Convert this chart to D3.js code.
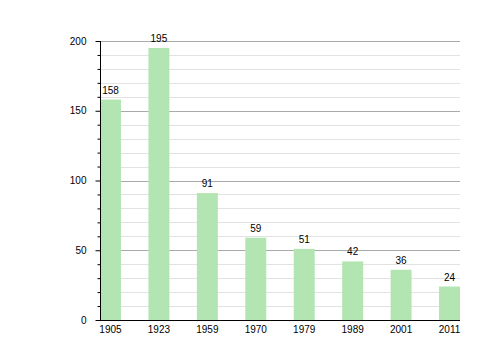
<!DOCTYPE html>
<html>
<head>
<meta charset="utf-8">
<script src="https://cdn.jsdelivr.net/npm/d3@7"></script>
<style>
  body { margin: 0; background: #fff; }
  text { font-family: "Liberation Sans", Arial, sans-serif; font-size: 10px; fill: #000; }
</style>
</head>
<body>
<div id="chart"></div>
<script>
const years = ["1905", "1923", "1959", "1970", "1979", "1989", "2001", "2011"];
const population = [158, 195, 91, 59, 51, 42, 36, 24];
const yMajorTicks = [0, 50, 100, 150, 200];

const width = 500, height = 360;
const plotLeft = 100, plotRight = 460, plotTop = 41, plotBottom = 320;

const svg = d3.select("#chart").append("svg")
    .attr("width", width)
    .attr("height", height);

const x = d3.scaleBand()
    .domain(years)
    .range([plotLeft, plotRight])
    .paddingInner(0.567)
    .paddingOuter(0)
    .align(0);

const y = d3.scaleLinear()
    .domain([0, 200])
    .range([plotBottom, plotTop]);

// minor grid every 10
const minor = d3.range(10, 200, 10).filter(v => v % 50 !== 0);
svg.append("g").selectAll("line")
    .data(minor)
    .join("line")
    .attr("x1", plotLeft).attr("x2", plotRight)
    .attr("y1", d => Math.round(y(d)) + 0.5).attr("y2", d => Math.round(y(d)) + 0.5)
    .attr("stroke", "#e2e2e2");

// major grid every 50
svg.append("g").selectAll("line")
    .data(yMajorTicks.filter(v => v > 0))
    .join("line")
    .attr("x1", plotLeft).attr("x2", plotRight)
    .attr("y1", d => Math.round(y(d)) + 0.5).attr("y2", d => Math.round(y(d)) + 0.5)
    .attr("stroke", "#aaaaaa");

// bars
svg.append("g").selectAll("rect")
    .data(population)
    .join("rect")
    .attr("x", (d, i) => x(years[i]))
    .attr("y", d => y(d))
    .attr("width", x.bandwidth())
    .attr("height", d => y(0) - y(d))
    .attr("fill", "#b3e5b3");

// value labels
svg.append("g").selectAll("text")
    .data(population)
    .join("text")
    .attr("x", (d, i) => x(years[i]) + x.bandwidth() / 2)
    .attr("y", d => y(d) - 6)
    .attr("text-anchor", "middle")
    .text(d => d);

// y axis with minor ticks
const yAxisMinor = d3.axisLeft(y).tickValues(minor).tickSize(3).tickFormat("");
svg.append("g")
    .attr("transform", `translate(${plotLeft + 0.5},0)`)
    .call(yAxisMinor)
    .call(g => g.select(".domain").remove());

const yAxis = d3.axisLeft(y).tickValues(yMajorTicks).tickSize(5).tickPadding(9);
svg.append("g")
    .attr("transform", `translate(${plotLeft + 0.5},0)`)
    .call(yAxis)
    .call(g => g.select(".domain").attr("d", `M0,${plotTop}V${plotBottom}`))
    .call(g => g.selectAll("text").style("font-size", "10px").style("font-family", "Liberation Sans, Arial, sans-serif"));

// x axis
const xAxis = d3.axisBottom(x).tickSize(0).tickPadding(5);
svg.append("g")
    .attr("transform", `translate(0,${plotBottom + 0.5})`)
    .call(xAxis)
    .call(g => g.select(".domain").attr("d", `M${plotLeft},0H${plotRight}`))
    .call(g => g.selectAll("text").style("font-size", "10px").style("font-family", "Liberation Sans, Arial, sans-serif"));
</script>
</body>
</html>
